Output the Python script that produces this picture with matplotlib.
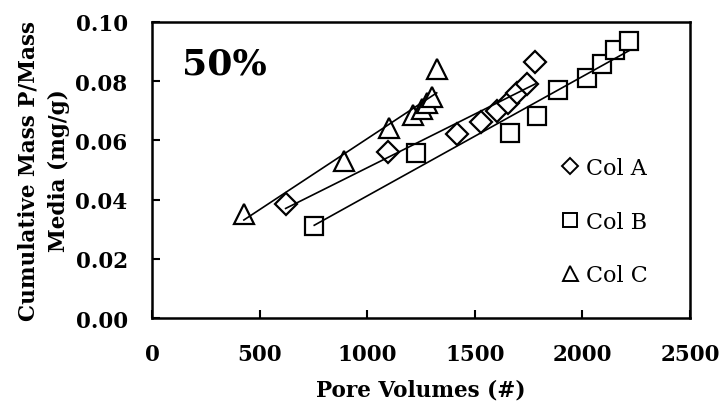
import numpy as np
import matplotlib.pyplot as plt
from matplotlib.lines import Line2D

plt.rcParams['font.family'] = ['DejaVu Serif']

# cumulative P mass per media mass vs pore volumes, 50% case
pv_A = [621, 1098, 1416, 1527, 1602, 1656, 1698, 1741, 1781]
mass_A = [0.0385, 0.0561, 0.0621, 0.0662, 0.0699, 0.0727, 0.0758, 0.0789, 0.0864]

pv_B = [754, 1225, 1664, 1790, 1885, 2023, 2090, 2151, 2216]
mass_B = [0.0312, 0.0557, 0.0626, 0.0682, 0.0769, 0.0809, 0.0856, 0.0904, 0.0935]

pv_C = [427, 892, 1103, 1213, 1255, 1278, 1301, 1323]
mass_C = [0.0351, 0.0531, 0.0641, 0.0685, 0.0705, 0.0725, 0.0745, 0.0840]

series = [(pv_A, mass_A, 'D', 11.5, 'Col A'),
          (pv_B, mass_B, 's', 13.5, 'Col B'),
          (pv_C, mass_C, '^', 15, 'Col C')]

fig = plt.figure(figsize=(7.23, 4.06), dpi=100)
ax = fig.add_axes([0.2102, 0.2136, 0.7442, 0.7305])

handles = []
for x, y, mk, ms, lab in series:
    x = np.array(x)
    y = np.array(y)
    ax.plot(x, y, linestyle='none', marker=mk, ms=ms, mfc='white', mec='black',
            mew=1.6, zorder=2)
    # linear trendline over the data range
    k, b = np.polyfit(x, y, 1)
    xs = np.array([x.min(), x.max()])
    ax.plot(xs, k * xs + b, color='black', lw=1.2, zorder=3)
    handles.append(Line2D([], [], linestyle='none', marker=mk, ms=ms * 0.72,
                          mfc='white', mec='black', mew=1.4, label=lab))

ax.set_xlim(0, 2500)
ax.set_ylim(0, 0.1)
ax.set_xticks([0, 500, 1000, 1500, 2000, 2500])
ax.set_yticks([0, 0.02, 0.04, 0.06, 0.08, 0.10])
ax.set_yticklabels(['0.00', '0.02', '0.04', '0.06', '0.08', '0.10'])
ax.tick_params(direction='in', length=6, width=1.5, labelsize=15.5, pad=17.5)
for lbl in ax.get_xticklabels() + ax.get_yticklabels():
    lbl.set_fontweight('bold')
for sp in ax.spines.values():
    sp.set_linewidth(1.8)

ax.set_xlabel('Pore Volumes (#)', fontsize=15.5, fontweight='bold', labelpad=10)
ax.set_ylabel('Cumulative Mass P/Mass\nMedia (mg/g)', fontsize=15.5,
              fontweight='bold', labelpad=4, linespacing=1.5)

ax.text(0.055, 0.86, '50%', transform=ax.transAxes, fontsize=26,
        fontweight='bold', va='center', ha='left')

ax.legend(handles=handles, loc='upper left', bbox_to_anchor=(0.74, 0.581),
          frameon=False, fontsize=16, handlelength=0.8, handletextpad=0.3,
          labelspacing=1.42, borderpad=0)

fig.savefig('out.png', dpi=100)
